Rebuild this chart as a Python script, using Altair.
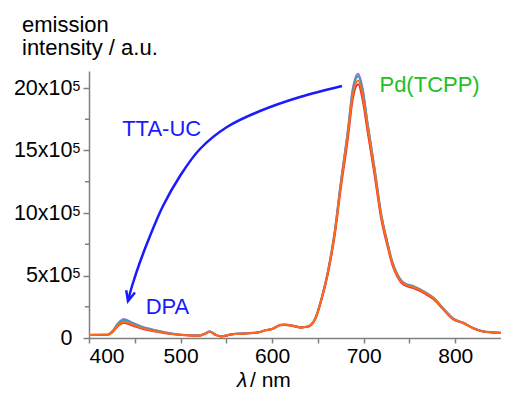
import altair as alt
import pandas as pd

# wavelength grid (nm)
wl = [400, 410, 420, 425, 432, 438, 448, 459, 474, 488,
      502, 520, 526, 532, 538, 544, 556, 571, 585, 593,
      600, 609, 614, 622, 632, 639, 647, 654, 661, 668,
      675, 683, 688, 694, 699, 704, 712, 719, 726, 731,
      737, 744, 755, 766, 777, 787, 798, 809, 820, 830,
      840, 850]

# emission intensity in units of 1e5
s_purple = [0.25, 0.26, 0.27, 0.50, 1.20, 1.53, 1.20, 0.88, 0.60, 0.39,
            0.26, 0.20, 0.33, 0.52, 0.28, 0.14, 0.30, 0.38, 0.46, 0.63,
            0.73, 1.06, 1.09, 1.00, 0.87, 0.93, 1.55, 3.18, 5.36, 8.35,
            12.45, 16.8, 19.9, 21.15, 19.9, 17.35, 13.55, 10.0, 7.65, 6.17,
            5.08, 4.41, 4.13, 3.72, 3.18, 2.37, 1.55, 1.22, 0.79, 0.54,
            0.46, 0.41]
s_teal = [0.25, 0.26, 0.27, 0.48, 1.16, 1.47, 1.16, 0.85, 0.58, 0.38,
          0.25, 0.20, 0.33, 0.52, 0.28, 0.14, 0.30, 0.38, 0.46, 0.63,
          0.73, 1.05, 1.08, 0.99, 0.86, 0.92, 1.54, 3.16, 5.32, 8.29,
          12.37, 16.7, 19.75, 20.95, 19.75, 17.25, 13.48, 9.93, 7.6, 6.13,
          5.05, 4.38, 4.10, 3.70, 3.16, 2.35, 1.54, 1.21, 0.78, 0.54,
          0.46, 0.41]
s_red = [0.23, 0.24, 0.25, 0.42, 0.98, 1.22, 0.98, 0.72, 0.50, 0.33,
         0.23, 0.18, 0.31, 0.50, 0.26, 0.12, 0.28, 0.36, 0.44, 0.61,
         0.71, 1.02, 1.05, 0.96, 0.83, 0.89, 1.49, 3.06, 5.15, 8.02,
         11.95, 16.1, 19.1, 20.3, 19.0, 16.65, 13.0, 9.6, 7.35, 5.93,
         4.88, 4.24, 3.97, 3.58, 3.06, 2.28, 1.49, 1.18, 0.76, 0.52,
         0.44, 0.39]
s_orange = [0.24, 0.25, 0.26, 0.45, 1.04, 1.30, 1.04, 0.77, 0.53, 0.35,
            0.24, 0.19, 0.32, 0.51, 0.27, 0.13, 0.29, 0.37, 0.45, 0.62,
            0.72, 1.04, 1.07, 0.98, 0.85, 0.91, 1.52, 3.12, 5.25, 8.18,
            12.2, 16.45, 19.45, 20.6, 19.4, 17.0, 13.3, 9.8, 7.5, 6.05,
            4.98, 4.32, 4.05, 3.65, 3.12, 2.32, 1.52, 1.20, 0.77, 0.53,
            0.45, 0.40]

series = [("purple", s_purple, "#b266c8"),
          ("teal", s_teal, "#2aa6b8"),
          ("red", s_red, "#e0303a"),
          ("orange", s_orange, "#ff6a1a")]

# TTA-UC arrow path (data units)
arrow_wl = [676.3, 630.4, 586.8, 550.7, 521.2, 499.4, 480.8, 466.6, 455.7, 447.0, 442.6]
arrow_v = [20.16, 19.28, 18.16, 16.88, 15.12, 12.96, 10.56, 8.16, 6.08, 4.16, 2.96]

labels_txt = ["TTA-UC", "DPA", "Pd(TCPP)"]
labels_wl = [479.4, 485.7, 772.0]
labels_v = [16.18, 1.92, 19.66]
labels_col = ["#1a1aff", "#1a1aff", "#22c022"]

y_major = [0, 5, 10, 15, 20]
y_minor = [2.5, 7.5, 12.5, 17.5]
x_ticks = [400, 450, 500, 550, 600, 650, 700, 750, 800]

FONT = "Liberation Sans"
GREY = "#808080"
xscale = alt.Scale(domain=[400, 850], nice=False, zero=False)
yscale = alt.Scale(domain=[0, 21.36], nice=False, zero=True)

xaxis = alt.Axis(values=x_ticks, title=None, grid=False, tickSize=5, labelPadding=2,
                 labelExpr="datum.value % 100 == 0 ? datum.value : ''",
                 labelFont=FONT, labelFontSize=21, labelColor="#000000",
                 domainColor=GREY, tickColor=GREY, domainWidth=1.5, tickWidth=1.5)
yaxis = alt.Axis(values=y_major, title=None, grid=False, tickSize=6, labelPadding=11,
                 labelExpr="datum.value == 0 ? '0' : datum.value + 'x10'",
                 labelFont=FONT, labelFontSize=21.5, labelColor="#000000",
                 domainColor=GREY, tickColor=GREY, domainWidth=1.5, tickWidth=1.5)

X = alt.X("wl:Q", scale=xscale, axis=xaxis)
Y = alt.Y("v:Q", scale=yscale, axis=yaxis)

layers = []
for name, vals, col in series:
    df = pd.DataFrame({"wl": wl, "v": vals})
    layers.append(alt.Chart(df).mark_line(color=col, strokeWidth=2, interpolate="monotone").encode(x=X, y=Y))

# minor y ticks
minor = alt.Chart(pd.DataFrame({"v": y_minor})).mark_rule(color=GREY, strokeWidth=1.5).encode(
    y=Y, x=alt.value(-4), x2=alt.value(0))
# the "5" exponents of the y tick labels
sup = alt.Chart(pd.DataFrame({"v": y_major[1:]})).mark_text(
    text="5", font=FONT, fontSize=14, align="left", baseline="alphabetic", dy=2.5).encode(
    y=Y, x=alt.value(-16.5))

arrow_df = pd.DataFrame({"wl": arrow_wl, "v": arrow_v, "o": list(range(len(arrow_wl)))})
arrow = alt.Chart(arrow_df).mark_line(color="#1a1aff", strokeWidth=2.5, interpolate="cardinal").encode(
    x=X, y=Y, order="o:Q")
head = alt.Chart(pd.DataFrame({"wl": [arrow_wl[-1]], "v": [arrow_v[-1]]})).mark_point(
    shape="M-0.5,-1.1L0,0L0.5,-1.1", filled=False, color="#1a1aff", strokeWidth=2.5,
    size=330, angle=15, opacity=1).encode(x=X, y=Y)

lab_df = pd.DataFrame({"t": labels_txt, "wl": labels_wl, "v": labels_v, "c": labels_col})
labs = alt.Chart(lab_df).mark_text(font=FONT, fontSize=22, align="center", baseline="alphabetic").encode(
    x=X, y=Y, text="t:N", color=alt.Color("c:N", scale=None))

one = pd.DataFrame({"a": [0]})
ytitle1 = alt.Chart(one).mark_text(text="emission", font=FONT, fontSize=22, align="left",
                                   baseline="alphabetic").encode(x=alt.value(-67), y=alt.value(-39))
ytitle2 = alt.Chart(one).mark_text(text="intensity / a.u.", font=FONT, fontSize=22, align="left",
                                   baseline="alphabetic").encode(x=alt.value(-67), y=alt.value(-16))
xt1 = alt.Chart(one).mark_text(text="\u03bb", font=FONT, fontSize=21, fontStyle="italic", align="left",
                               baseline="alphabetic").encode(x=alt.value(148), y=alt.value(316))
xt2 = alt.Chart(one).mark_text(text="/ nm", font=FONT, fontSize=21, align="left",
                               baseline="alphabetic").encode(x=alt.value(161), y=alt.value(316))

chart = alt.layer(*layers, minor, sup, arrow, head, labs, ytitle1, ytitle2, xt1, xt2).properties(
    width=412, height=267,
    autosize=alt.AutoSizeParams(type="none"),
    padding={"left": 81, "top": 63, "right": 0, "bottom": 54},
).configure_view(stroke=None)

chart.save("out.html", embed_options={"renderer": "svg", "actions": False})
